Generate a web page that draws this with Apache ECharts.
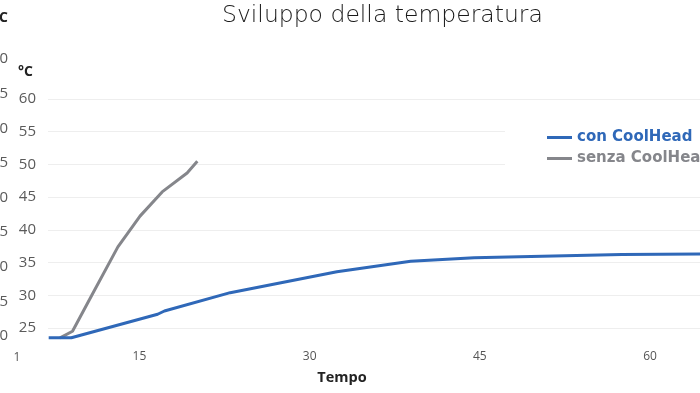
<!DOCTYPE html>
<html>
<head>
<meta charset="utf-8">
<script src="https://cdn.jsdelivr.net/npm/echarts@6/dist/echarts.min.js"></script>
<style>html,body{margin:0;padding:0;background:#fff}#c{width:700px;height:393px}</style>
</head>
<body>
<div id="c"></div>
<script>
// ---- data ----
const seriesNames = ['con CoolHead', 'senza CoolHead'];
const blueTime = [7, 9, 16.6, 17.2, 23, 32.4, 38.9, 44.5, 57.5, 65];
const blueTemp = [23.5, 23.5, 27.1, 27.6, 30.4, 33.6, 35.2, 35.75, 36.25, 36.3];
const greyTime = [8, 9.1, 10.8, 13.1, 15.05, 17.0, 19.2, 20.1];
const greyTemp = [23.5, 24.5, 30.0, 37.4, 42.1, 45.8, 48.7, 50.5];
const xTickLabels = [15, 30, 45, 60];
const yTickLabels = [25, 30, 35, 40, 45, 50, 55, 60];
const ghostXTickLabels = [1];

const BLUE = '#2f68b8';
const GREY = '#85868b';
const FONT = 'Open Sans';
const WIDE = 'DejaVu Sans';

const zip = (a, b) => a.map((v, i) => [v, b[i]]);

const chart = echarts.init(document.getElementById('c'), null, {renderer: 'canvas'});
chart.setOption({
  animation: false,
  backgroundColor: '#fff',
  textStyle: {fontFamily: FONT},
  title: {
    text: 'Sviluppo della temperatura',
    left: 217, top: -1,
    textStyle: {fontFamily: WIDE, fontSize: 23.5, fontWeight: 200, color: '#1a1a1a'}
  },
  legend: {
    orient: 'vertical',
    left: 505, top: 101,
    padding: [29, 10, 28, 42],
    backgroundColor: '#fff',
    icon: 'rect',
    itemWidth: 25, itemHeight: 3,
    itemGap: 6,
    textStyle: {fontFamily: WIDE, fontSize: 15, fontWeight: 'bold'},
    data: [
      {name: seriesNames[0], textStyle: {color: BLUE}},
      {name: seriesNames[1], textStyle: {color: GREY}}
    ]
  },
  grid: [
    {left: 48, right: 0, top: 99, bottom: 51, outerBoundsMode: 'none', containLabel: false},
    {left: 17, width: 300, top: 59, bottom: 57, outerBoundsMode: 'none', containLabel: false, show: false}
  ],
  xAxis: [
    {
      type: 'value', gridIndex: 0, min: 6.94, max: 64.4,
      name: 'Tempo', nameLocation: 'middle', nameGap: 28,
      nameTextStyle: {fontFamily: FONT, fontSize: 14.5, fontWeight: 'bold', color: '#222', padding: [0, 64, 0, 0]},
      axisLine: {show: false}, axisTick: {show: false, customValues: xTickLabels},
      splitLine: {show: false},
      axisLabel: {customValues: xTickLabels, color: '#555', fontSize: 12, margin: 9}
    },
    {
      type: 'value', gridIndex: 1, min: 1, max: 30,
      axisLine: {show: false}, axisTick: {show: false, customValues: ghostXTickLabels},
      splitLine: {show: false},
      axisLabel: {customValues: ghostXTickLabels, color: '#555', fontSize: 12, margin: 16}
    }
  ],
  yAxis: [
    {
      type: 'value', gridIndex: 0, min: 22.86, max: 60,
      name: '°C', nameLocation: 'end', nameGap: 20,
      nameTextStyle: {fontFamily: FONT, fontSize: 14, fontWeight: 'bold', color: '#222', align: 'right', padding: [0, 15, 0, 0]},
      axisLine: {show: false}, axisTick: {show: false, customValues: yTickLabels},
      splitLine: {lineStyle: {color: '#eeeeee', width: 1}},
      axisLabel: {customValues: yTickLabels, color: '#5a5a5a', fontSize: 15, margin: 12}
    },
    {
      type: 'value', gridIndex: 1, min: 20, max: 60, interval: 5,
      name: '°C', nameLocation: 'end', nameGap: 34,
      nameTextStyle: {fontFamily: FONT, fontSize: 14, fontWeight: 'bold', color: '#222', align: 'right', padding: [0, 9, 0, 0]},
      axisLine: {show: false}, axisTick: {show: false},
      splitLine: {show: false},
      axisLabel: {color: '#5a5a5a', fontSize: 15, margin: 9}
    }
  ],
  series: [
    {
      name: seriesNames[0], type: 'line', xAxisIndex: 0, yAxisIndex: 0,
      data: zip(blueTime, blueTemp), showSymbol: false, symbol: 'none',
      lineStyle: {color: BLUE, width: 3}, itemStyle: {color: BLUE}, z: 3
    },
    {
      name: seriesNames[1], type: 'line', xAxisIndex: 0, yAxisIndex: 0,
      data: zip(greyTime, greyTemp), showSymbol: false, symbol: 'none',
      lineStyle: {color: GREY, width: 3}, itemStyle: {color: GREY}, z: 2
    }
  ]
});
</script>
</body>
</html>
